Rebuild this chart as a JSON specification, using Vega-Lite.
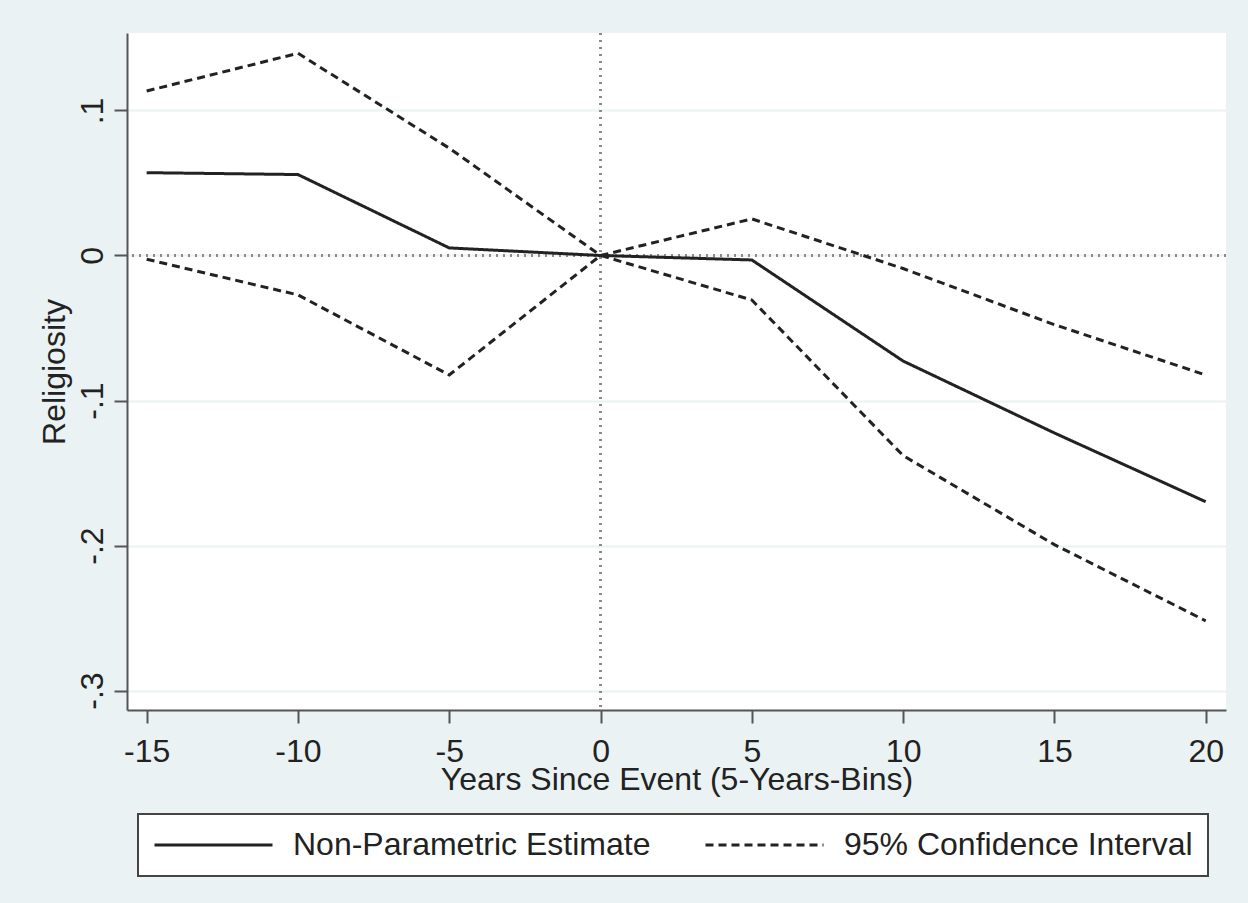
{
  "$schema": "https://vega.github.io/schema/vega-lite/v6.json",
  "width": 1099,
  "height": 677,
  "autosize": {"type": "none"},
  "padding": {"left": 127, "top": 33, "right": 22, "bottom": 193},
  "background": "#eaf2f3",
  "config": {
    "view": {"fill": "white", "stroke": null},
    "font": "Liberation Sans",
    "axis": {
      "labelFont": "Liberation Sans",
      "titleFont": "Liberation Sans",
      "labelFontSize": 32,
      "titleFontSize": 32,
      "labelColor": "#222222",
      "titleColor": "#222222",
      "titleFontWeight": "normal",
      "domainColor": "#555555",
      "domainWidth": 2,
      "tickColor": "#555555",
      "tickWidth": 2,
      "tickSize": 13,
      "labelFlush": false,
      "labelOverlap": false
    },
    "legend": {
      "labelFont": "Liberation Sans",
      "labelFontSize": 32,
      "labelColor": "#222222",
      "labelLimit": 800,
      "strokeWidth": 2
    }
  },
  "data": {
    "values": [
      {"x": -15, "y": 0.0571, "series": "est", "type": "Non-Parametric Estimate"},
      {"x": -10, "y": 0.0558, "series": "est", "type": "Non-Parametric Estimate"},
      {"x": -5, "y": 0.0052, "series": "est", "type": "Non-Parametric Estimate"},
      {"x": 0, "y": 0.0, "series": "est", "type": "Non-Parametric Estimate"},
      {"x": 5, "y": -0.0031, "series": "est", "type": "Non-Parametric Estimate"},
      {"x": 10, "y": -0.0728, "series": "est", "type": "Non-Parametric Estimate"},
      {"x": 15, "y": -0.1224, "series": "est", "type": "Non-Parametric Estimate"},
      {"x": 20, "y": -0.1698, "series": "est", "type": "Non-Parametric Estimate"},
      {"x": -15, "y": 0.1134, "series": "upper", "type": "95% Confidence Interval"},
      {"x": -10, "y": 0.1394, "series": "upper", "type": "95% Confidence Interval"},
      {"x": -5, "y": 0.074, "series": "upper", "type": "95% Confidence Interval"},
      {"x": 0, "y": 0.0, "series": "upper", "type": "95% Confidence Interval"},
      {"x": 5, "y": 0.0252, "series": "upper", "type": "95% Confidence Interval"},
      {"x": 10, "y": -0.009, "series": "upper", "type": "95% Confidence Interval"},
      {"x": 15, "y": -0.0477, "series": "upper", "type": "95% Confidence Interval"},
      {"x": 20, "y": -0.0824, "series": "upper", "type": "95% Confidence Interval"},
      {"x": -15, "y": -0.0026, "series": "lower", "type": "95% Confidence Interval"},
      {"x": -10, "y": -0.0272, "series": "lower", "type": "95% Confidence Interval"},
      {"x": -5, "y": -0.0824, "series": "lower", "type": "95% Confidence Interval"},
      {"x": 0, "y": 0.0, "series": "lower", "type": "95% Confidence Interval"},
      {"x": 5, "y": -0.0307, "series": "lower", "type": "95% Confidence Interval"},
      {"x": 10, "y": -0.138, "series": "lower", "type": "95% Confidence Interval"},
      {"x": 15, "y": -0.1994, "series": "lower", "type": "95% Confidence Interval"},
      {"x": 20, "y": -0.2519, "series": "lower", "type": "95% Confidence Interval"}
    ]
  },
  "layer": [
    {
      "mark": {"type": "rule", "color": "#8a8a8a", "strokeWidth": 1.6, "strokeDash": [2, 5]},
      "encoding": {"x": {"datum": 0, "type": "quantitative"}}
    },
    {
      "mark": {"type": "rule", "color": "#8a8a8a", "strokeWidth": 1.6, "strokeDash": [2, 5]},
      "encoding": {"y": {"datum": 0, "type": "quantitative"}}
    },
    {
      "mark": {"type": "line", "color": "#222222", "strokeWidth": 3, "clip": true},
      "encoding": {
        "x": {
          "field": "x",
          "type": "quantitative",
          "scale": {"domain": [-15.65, 20.67], "nice": false, "zero": false},
          "axis": {
            "values": [-15, -10, -5, 0, 5, 10, 15, 20],
            "grid": false,
            "labelExpr": "toString(datum.value)",
            "labelPadding": 13,
            "title": "Years Since Event (5-Years-Bins)",
            "titleBaseline": "alphabetic",
            "titleY": 79
          }
        },
        "y": {
          "field": "y",
          "type": "quantitative",
          "scale": {"domain": [-0.3134, 0.1534], "nice": false, "zero": false},
          "axis": {
            "values": [-0.3, -0.2, -0.1, 0, 0.1],
            "grid": true,
            "gridColor": "#eaf2f3",
            "gridWidth": 2,
            "labelAngle": -90,
            "labelAlign": "center",
            "labelBaseline": "alphabetic",
            "labelPadding": 12,
            "labelExpr": "datum.value == 0 ? '0' : (datum.value < 0 ? '-' : '') + '.' + toString(round(abs(datum.value) * 10))",
            "title": "Religiosity",
            "titleAngle": -90,
            "titleAlign": "center",
            "titleBaseline": "alphabetic",
            "titleX": -63,
            "titleY": 338.5
          }
        },
        "detail": {"field": "series"},
        "strokeDash": {
          "field": "type",
          "type": "nominal",
          "scale": {
            "domain": ["Non-Parametric Estimate", "95% Confidence Interval"],
            "range": [[1, 0], [8, 5]]
          },
          "legend": {
            "title": null,
            "orient": "none",
            "legendX": 11,
            "legendY": 781,
            "direction": "horizontal",
            "symbolType": "stroke",
            "symbolSize": 13924,
            "symbolStrokeWidth": 3,
            "symbolStrokeColor": "#222222",
            "clipHeight": 32,
            "labelOffset": 19,
            "labelLimit": 800,
            "columnPadding": 53,
            "padding": 15,
            "fillColor": "white",
            "strokeColor": "#444444"
          }
        }
      }
    }
  ]
}
